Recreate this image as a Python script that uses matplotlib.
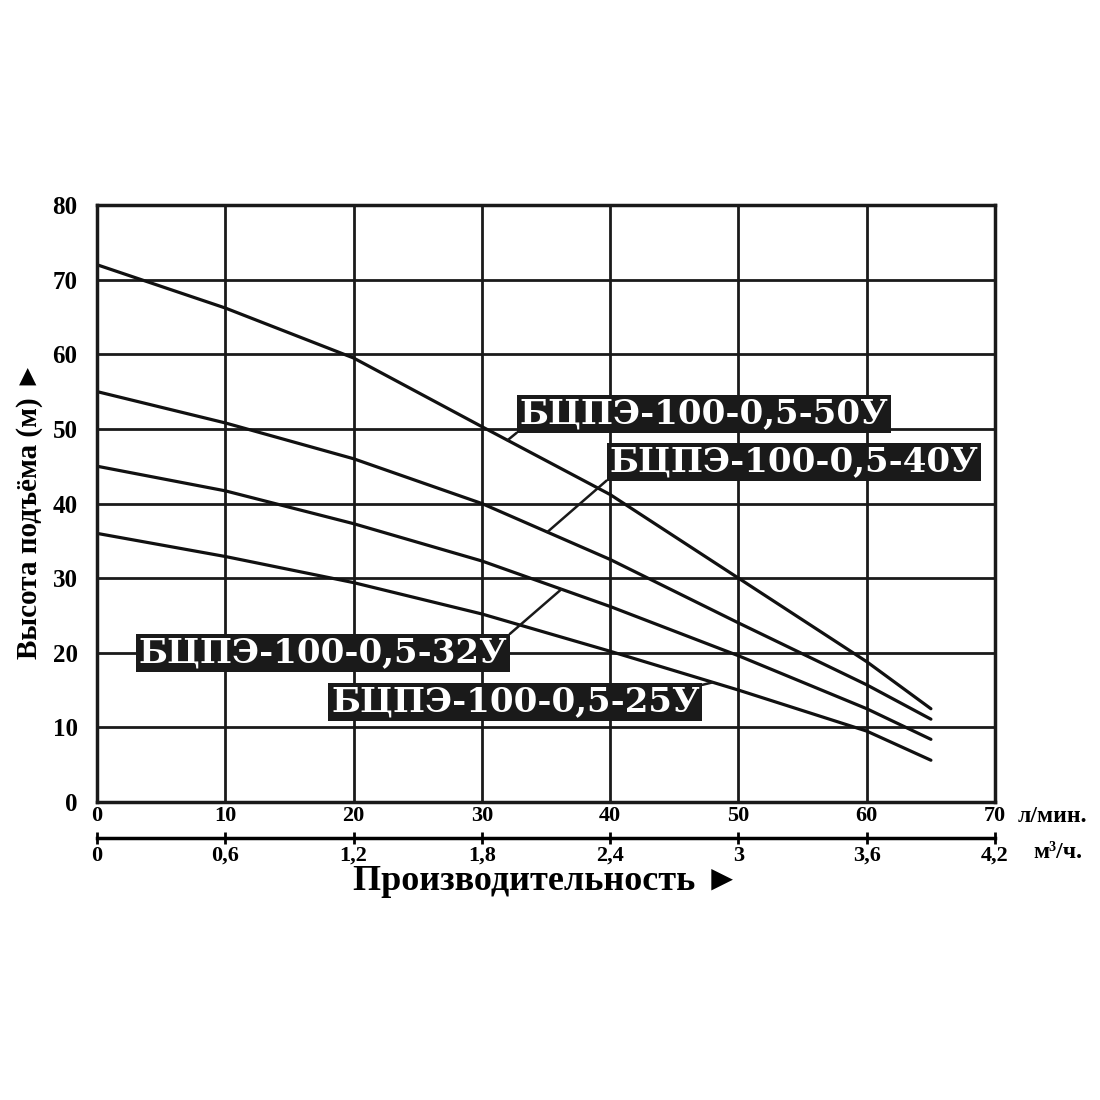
import matplotlib

matplotlib.use("Agg")
import matplotlib.pyplot as plt
import numpy as np

# flow, l/min (points read at each grid line + curve end)
flow_lpm = [0, 10, 20, 30, 40, 50, 60, 65]

# head, m
head_50 = [72.0, 66.2, 59.5, 50.3, 41.2, 30.0, 18.8, 12.5]
head_40 = [55.0, 50.8, 46.0, 40.0, 32.5, 24.0, 15.7, 11.1]
head_32 = [45.0, 41.7, 37.3, 32.3, 26.2, 19.6, 12.5, 8.4]
head_25 = [36.0, 32.9, 29.4, 25.2, 20.2, 15.0, 9.5, 5.6]

names = ["БЦПЭ-100-0,5-50У", "БЦПЭ-100-0,5-40У", "БЦПЭ-100-0,5-32У", "БЦПЭ-100-0,5-25У"]

x_ticks = [0, 10, 20, 30, 40, 50, 60, 70]
y_ticks = [0, 10, 20, 30, 40, 50, 60, 70, 80]
m3h_ticks = [0, 0.6, 1.2, 1.8, 2.4, 3.0, 3.6, 4.2]
m3h_labels = ["0", "0,6", "1,2", "1,8", "2,4", "3", "3,6", "4,2"]

SERIF = ["Liberation Serif", "DejaVu Serif"]
WIDE = ["DejaVu Serif"]
plt.rcParams["font.family"] = SERIF
plt.rcParams["font.weight"] = "bold"

fig = plt.figure(figsize=(11, 11), dpi=100)
ax = fig.add_axes([0.0882, 0.2709, 0.8164, 0.5427])

ax.set_xlim(0, 70)
ax.set_ylim(0, 80)
ax.set_xticks(x_ticks)
ax.set_yticks(y_ticks)
ax.set_xticklabels([str(v) for v in x_ticks], fontsize=16, fontweight="bold")
ax.set_yticklabels([str(v) for v in y_ticks], fontsize=18, fontweight="bold")
ax.tick_params(axis="x", length=0, pad=3)
ax.tick_params(axis="y", length=0, pad=14)
ax.grid(True, color="#1a1a1a", lw=2)
for sp in ax.spines.values():
    sp.set_linewidth(2.5)
    sp.set_color("#1a1a1a")

curves = [head_50, head_40, head_32, head_25]
for h in curves:
    ax.plot(flow_lpm, h, color="#111111", lw=2.3, solid_capstyle="round")

# label boxes: (text centre x, y), where leader meets the curve (x), which box corner
label_pos = [(47.3, 52.0), (54.3, 45.6), (17.6, 20.0), (32.6, 13.4)]
leader_x = [32.0, 35.1, 36.2, 48.0]
corner = [(0, 0), (0, 0), (1, 1), (1, 1)]
for name, h, pos, lx, rp in zip(names, curves, label_pos, leader_x, corner):
    ly = np.interp(lx, flow_lpm, h)
    ax.annotate(
        name, xy=(lx, ly), xytext=pos, ha="center", va="center",
        fontsize=24.5, fontweight="bold", color="white", family=WIDE,
        bbox=dict(boxstyle="square,pad=0.08", fc="#1a1a1a", ec="none"),
        arrowprops=dict(arrowstyle="-", color="#1a1a1a", lw=1.8, relpos=rp,
                        shrinkA=0, shrinkB=0),
    )

# second flow scale, m3/h
sec = ax.secondary_xaxis(-0.0603, functions=(lambda x: x * 0.06, lambda x: x / 0.06))
sec.set_xticks(m3h_ticks)
sec.set_xticklabels(m3h_labels, fontsize=16, fontweight="bold")
sec.tick_params(direction="inout", length=9, width=2, pad=1)
sec.spines["bottom"].set_linewidth(2.5)

ax.text(1.025, -0.025, "л/мин.", transform=ax.transAxes, fontsize=17,
        fontweight="bold", ha="left", va="center")
ax.text(1.043, -0.085, "м³/ч.", transform=ax.transAxes, fontsize=17,
        fontweight="bold", ha="left", va="center")

fig.text(0.497, 0.199, "Производительность ►", ha="center", va="center",
         fontsize=26, fontweight="bold", family=SERIF)
fig.text(0.027, 0.536, "Высота подъёма (м) ►", ha="center", va="center",
         rotation=90, fontsize=21, fontweight="bold", family=SERIF)

fig.savefig("out.png", dpi=100, facecolor="white")
